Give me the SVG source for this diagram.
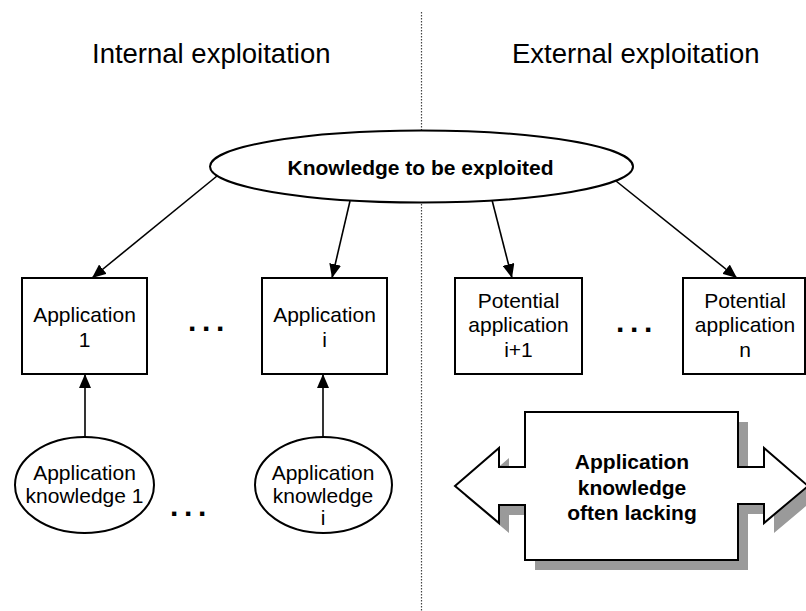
<svg xmlns="http://www.w3.org/2000/svg" width="806" height="611" viewBox="0 0 806 611">
<style>
  .t { font-family: "Liberation Sans", Arial, sans-serif; fill: #000; }
  .title { font-size: 27.5px; }
  .lbl { font-size: 21px; text-anchor: middle; }
  .bold { font-weight: bold; }
  .dots { font-size: 30px; font-weight: bold; letter-spacing: 5.7px; }
  .shape { fill: #fff; stroke: #000; stroke-width: 2; }
  .conn { stroke: #000; stroke-width: 1.6; fill: none; marker-end: url(#ah); }
  .divider { stroke: #444; stroke-width: 1.2; stroke-dasharray: 1.5 1.5; }
  .shadow { fill: #9a9a9a; }
</style>
<defs>
  <marker id="ah" viewBox="0 0 14 12" refX="14" refY="6" markerWidth="14" markerHeight="12" markerUnits="userSpaceOnUse" orient="auto">
    <path d="M0,0 L14,6 L0,12 z" fill="#000"/>
  </marker>
</defs>
<rect width="806" height="611" fill="#fff"/>

<line id="divider" class="divider" x1="421.5" y1="12" x2="421.5" y2="611"/>

<g id="titles">
  <text class="t title" x="92" y="63">Internal exploitation</text>
  <text class="t title" x="512" y="63">External exploitation</text>
</g>

<g id="connectors">
  <line class="conn" x1="217" y1="176" x2="92" y2="278"/>
  <line class="conn" x1="350" y1="201" x2="332" y2="278"/>
  <line class="conn" x1="492" y1="200" x2="512" y2="278"/>
  <line class="conn" x1="616" y1="181" x2="737" y2="278"/>
  <line class="conn" x1="85" y1="437" x2="85" y2="374"/>
  <line class="conn" x1="323" y1="437" x2="323" y2="374"/>
</g>

<g id="knowledge">
  <ellipse class="shape" cx="421.5" cy="166.5" rx="211.5" ry="36"/>
  <text class="t lbl bold" x="420.5" y="175">Knowledge to be exploited</text>
</g>

<g id="app1">
  <rect class="shape" x="22" y="278" width="125" height="96"/>
  <text class="t lbl" x="84.5" y="322">Application</text>
  <text class="t lbl" x="84.5" y="347">1</text>
</g>

<g id="appi">
  <rect class="shape" x="262" y="278" width="125" height="96"/>
  <text class="t lbl" x="324.5" y="322">Application</text>
  <text class="t lbl" x="324.5" y="347">i</text>
</g>

<g id="potential-i1">
  <rect class="shape" x="455" y="278" width="127" height="96"/>
  <text class="t lbl" x="518.5" y="308">Potential</text>
  <text class="t lbl" x="518.5" y="332">application</text>
  <text class="t lbl" x="518.5" y="357">i+1</text>
</g>

<g id="potential-n">
  <rect class="shape" x="683" y="278" width="122" height="96"/>
  <text class="t lbl" x="745" y="308">Potential</text>
  <text class="t lbl" x="745" y="332">application</text>
  <text class="t lbl" x="745" y="357">n</text>
</g>

<g id="appknow1">
  <ellipse class="shape" cx="84.5" cy="485" rx="69.5" ry="48"/>
  <text class="t lbl" x="84.5" y="480">Application</text>
  <text class="t lbl" x="84.5" y="503">knowledge 1</text>
</g>

<g id="appknowi">
  <ellipse class="shape" cx="323.5" cy="485" rx="68.5" ry="48"/>
  <text class="t lbl" x="323" y="480">Application</text>
  <text class="t lbl" x="323" y="503">knowledge</text>
  <text class="t lbl" x="323" y="525">i</text>
</g>

<g id="ellipsis">
  <text class="t dots" x="188" y="331">...</text>
  <text class="t dots" x="170" y="516">...</text>
  <text class="t dots" x="616" y="332">...</text>
</g>

<g id="lacking">
  <polygon class="shadow" transform="translate(10,10)" points="525,412 738,412 738,467 764,467 764,448 808,486 764,523 764,504 738,504 738,560 525,560 525,505 499,505 499,523 455,486 499,448 499,467 525,467"/>
  <polygon class="shape" points="525,412 738,412 738,467 764,467 764,448 808,486 764,523 764,504 738,504 738,560 525,560 525,505 499,505 499,523 455,486 499,448 499,467 525,467"/>
  <text class="t lbl bold" x="632" y="469">Application</text>
  <text class="t lbl bold" x="632" y="495">knowledge</text>
  <text class="t lbl bold" x="632" y="520">often lacking</text>
</g>
</svg>
